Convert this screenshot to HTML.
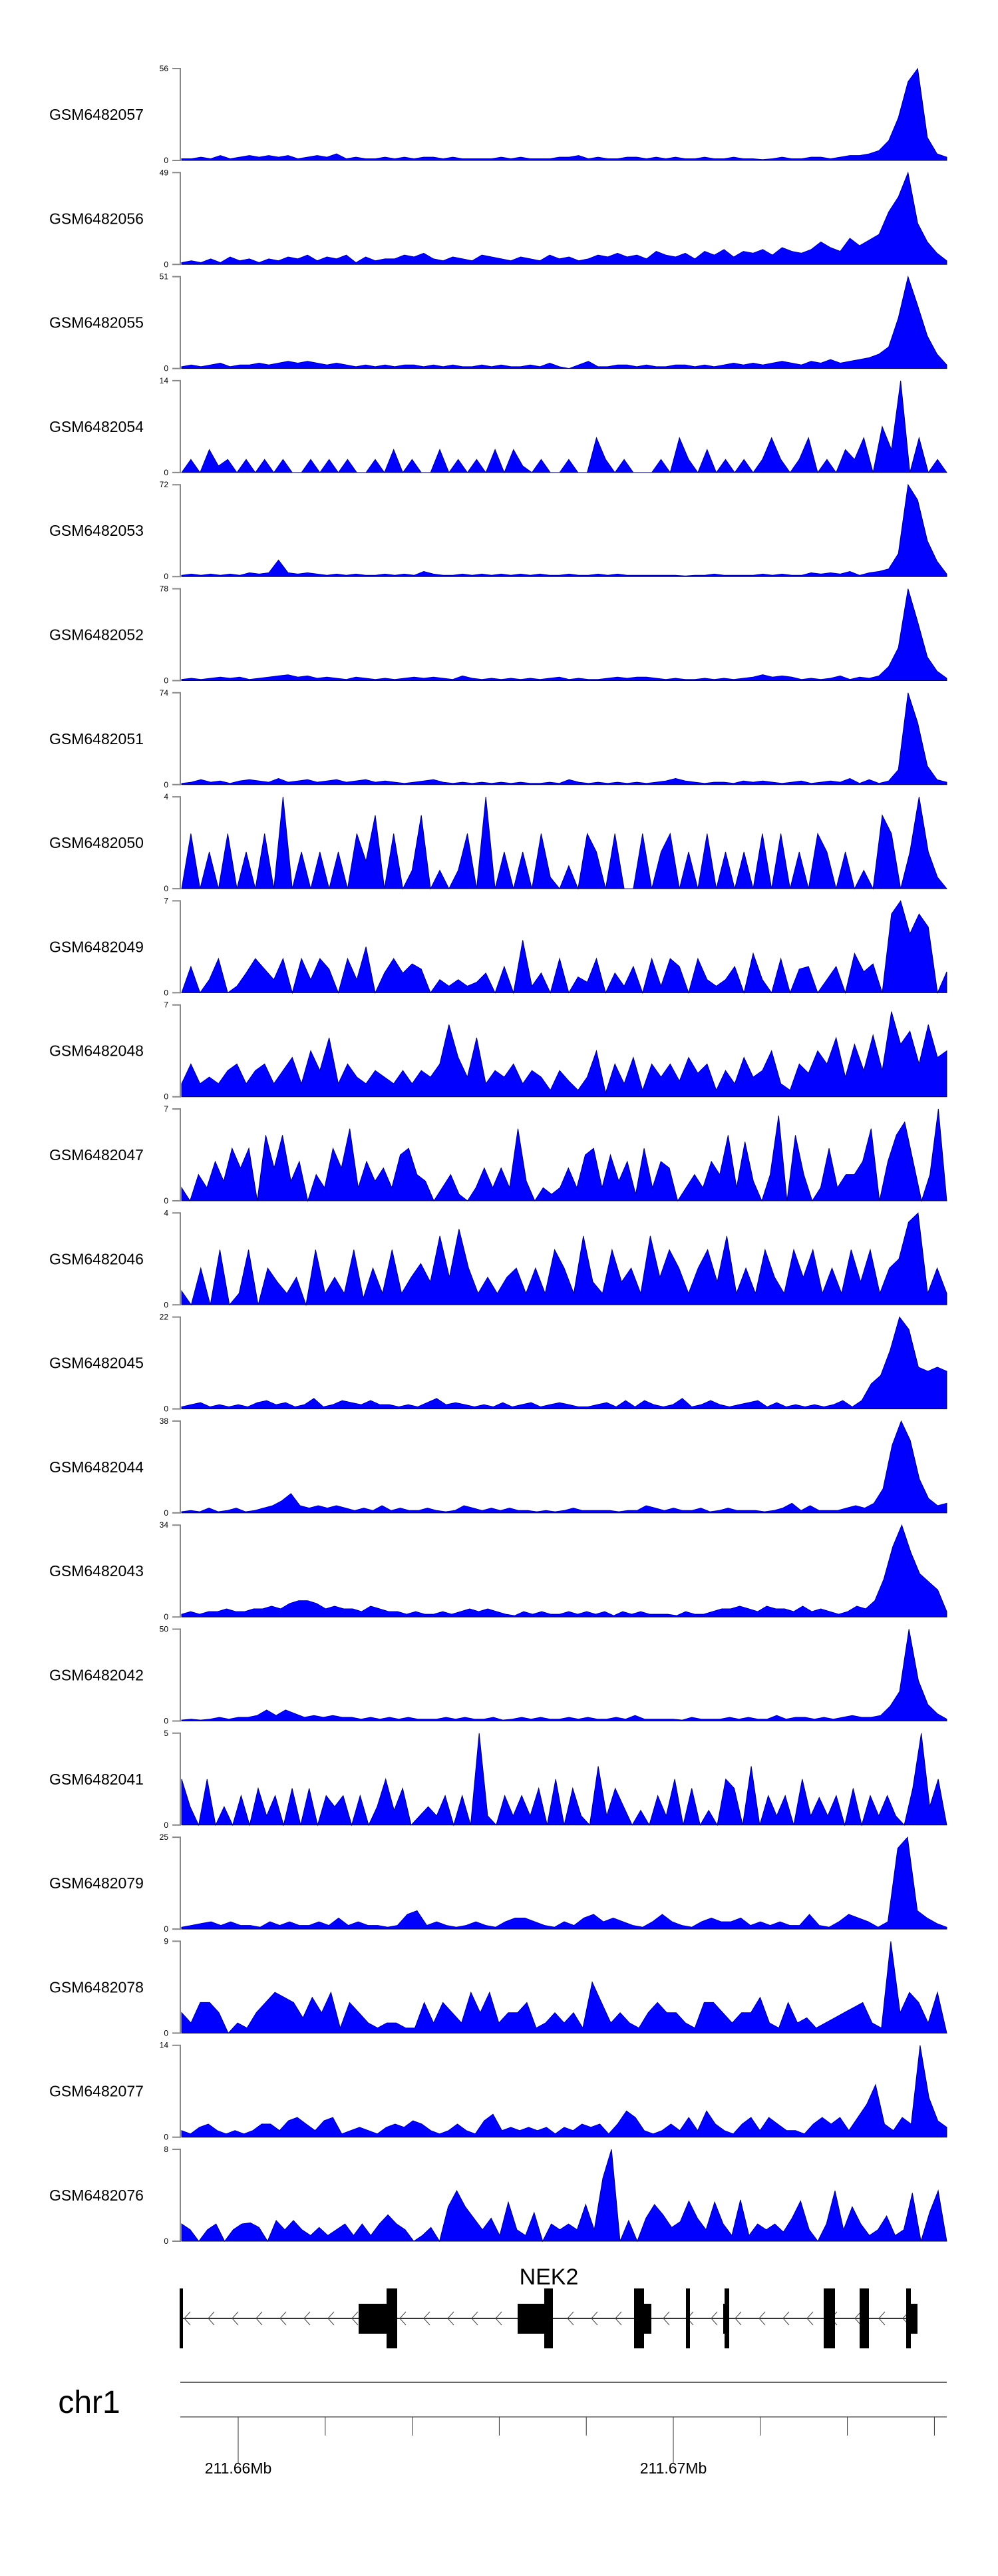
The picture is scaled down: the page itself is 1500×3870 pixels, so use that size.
<!DOCTYPE html>
<html>
<head>
<meta charset="utf-8">
<style>
html,body{margin:0;padding:0;background:#fff;}
svg{display:block;}
text{font-family:"Liberation Sans",sans-serif;}
</style>
</head>
<body>
<svg id="chart" width="1500" height="3870" viewBox="0 0 1500 3870" xmlns="http://www.w3.org/2000/svg">
  <g id="tracks"></g>
  <g id="gene"></g>
  <g id="axis"></g>
</svg>
<script>
const trackNames = ["GSM6482057","GSM6482056","GSM6482055","GSM6482054","GSM6482053","GSM6482052","GSM6482051","GSM6482050","GSM6482049","GSM6482048","GSM6482047","GSM6482046","GSM6482045","GSM6482044","GSM6482043","GSM6482042","GSM6482041","GSM6482079","GSM6482078","GSM6482077","GSM6482076"];
const trackMax = [56,49,51,14,72,78,74,4,7,7,7,4,22,38,34,50,5,25,9,14,8];
const s57 = [1,1,2,1,3,1,2,3,2,3,2,3,1,2,3,2,4,1,2,1,1,2,1,2,1,2,2,1,2,1,1,1,1,2,1,2,1,1,1,2,2,3,1,2,1,1,2,2,1,2,1,2,1,1,2,1,1,2,1,1,0.5,1,2,1,1,2,2,1,2,3,3,4,6,12,26,48,56,14,4,2];
const s56 = [1,2,1,3,1,4,2,3,1,3,2,4,3,5,2,4,3,5,1,4,2,3,3,5,4,6,3,2,4,3,2,5,4,3,2,4,3,2,5,3,4,2,3,5,4,6,4,5,3,7,5,4,6,3,7,5,8,4,7,6,8,5,9,7,6,8,12,9,7,14,10,13,16,28,36,49,22,12,6,2];
const s55 = [1,2,1,2,3,1,2,2,3,2,3,4,3,4,3,2,3,2,1,2,1,2,1,2,2,1,2,1,2,1,1,2,1,2,1,1,2,1,3,1,0,2,4,1,1,2,2,1,2,1,1,2,2,1,2,1,2,3,2,3,2,3,4,3,2,4,3,5,3,4,5,6,8,12,28,51,35,18,8,2];
const s54 = [0,2,0,3.5,1,2,0,2,0,2,0,2,0,0,2,0,2,0,2,0,0,2,0,3.5,0,2,0,0,3.5,0,2,0,2,0,3.5,0,3.5,1,0,2,0,0,2,0,0,5.3,2,0,2,0,0,0,2,0,5.3,2,0,3.5,0,2,0,2,0,2,5.3,2,0,2,5.3,0,2,0,3.5,2,5.3,0,7,3.5,14,0,5.3,0,2,0];
const s53 = [1,2,1,2,1,2,1,3,2,3,13,3,2,3,2,1,2,1,2,1,1,2,1,2,1,4,2,1,1,2,1,2,1,2,1,2,1,2,1,1,2,1,1,2,1,2,1,1,1,1,1,1,0.5,1,1,2,1,1,1,1,2,1,2,1,1,3,2,3,2,4,1,3,4,6,18,72,60,28,12,2];
const s52 = [1,2,1,2,3,2,3,1,2,3,4,5,3,4,2,3,2,1,3,2,1,2,1,2,3,2,3,2,1,4,2,1,2,1,2,1,2,1,2,3,1,2,1,1,2,3,2,3,3,2,1,2,1,1,2,1,2,1,2,3,5,3,4,3,1,2,1,2,4,1,3,2,4,12,28,78,50,20,8,2];
const s51 = [1,2,4,2,3,1,3,4,3,2,5,2,3,4,2,3,4,2,3,4,2,3,2,1,2,3,4,2,1,2,1,2,1,2,1,2,1,1,2,1,4,2,1,2,1,2,1,2,1,2,3,5,3,2,1,2,2,1,3,2,3,2,1,2,3,1,2,3,2,5,1,4,1,3,12,74,50,15,4,2];
const s50 = [0,2.4,0,1.6,0,2.4,0,1.6,0,2.4,0,4,0,1.6,0,1.6,0,1.6,0,2.4,1.2,3.2,0,2.4,0,0.8,3.2,0,0.8,0,0.8,2.4,0,4,0,1.6,0,1.6,0,2.4,0.5,0,1,0,2.4,1.6,0,2.4,0,0,2.4,0,1.6,2.4,0,1.6,0,2.4,0,1.6,0,1.6,0,2.4,0,2.4,0,1.6,0,2.4,1.6,0,1.6,0,0.8,0,3.2,2.4,0,1.6,4,1.6,0.5,0];
const s49 = [0,2,0,1,2.6,0,0.5,1.5,2.6,1.8,1,2.6,0,2.6,1,2.6,1.8,0,2.6,1,3.5,0,1.5,2.6,1.5,2.2,1.8,0,1,0.5,1,0.5,0.8,1.5,0,2,0,4,0.5,1.5,0,2.6,0,1.2,0.8,2.6,0,1.5,0.5,2,0,2.6,0.5,2.6,2,0,2.6,1,0.5,1,2,0,3,1,0,2.6,0,1.8,2,0,1,2,0,3,1.6,2.2,0,6,7,4.5,6,5,0,1.6];
const s48 = [1,2.5,1,1.5,1,2,2.5,1,2,2.5,1,2,3,1,3.5,2,4.5,1,2.5,1.5,1,2,1.5,1,2,1,2,1.5,2.5,5.5,3,1.5,4.5,1,2,1.5,2.5,1,2,1.5,0.5,2,1.2,0.5,1.5,3.5,0.3,2.5,1,3,0.5,2.5,1.5,2.5,1.2,3,1.8,2.5,0.5,2,1,3,1.5,2,3.5,1,0.5,2.5,1.8,3.5,2.5,4.5,1.5,4,2,4.7,2,6.5,4,5,2.5,5.5,3,3.5];
const s47 = [1,0,2,1,3,1.5,4,2.5,4,0,5,2.5,5,1.5,3,0,2,1,4,2.5,5.5,1,3,1.5,2.5,1,3.5,4,2,1.5,0,1,2,0.5,0,1,2.5,1,2.5,1,5.5,1.5,0,1,0.5,1,2.5,1,3.5,4,1,3.5,1.5,3,0.5,4,1,3,2.5,0,1,2,1,3,2,5,1,4.5,1.5,0,2,6.5,0,5,2,0,1,4,1,2,2,3,5.5,0,3,5,6,3,0,2,7,0];
const s46 = [0.6,0,1.6,0,2.4,0,0.5,2.4,0,1.6,1,0.5,1.2,0,2.4,0.5,1.2,0.5,2.4,0.3,1.6,0.5,2.4,0.5,1.2,1.8,1,3,1.2,3.3,1.6,0.5,1.2,0.5,1.2,1.6,0.5,1.6,0.5,2.4,1.6,0.5,3,1,0.5,2.4,1,1.6,0.5,3,1.2,2.4,1.6,0.5,1.6,2.4,1,3,0.5,1.6,0.5,2.4,1.2,0.5,2.4,1.2,2.4,0.5,1.6,0.5,2.4,1,2.4,0.5,1.6,2,3.6,4,0.5,1.6,0.5];
const s45 = [0.5,1,1.5,0.5,1,0.5,1,0.5,1.5,2,1,1.5,0.5,1,2.5,0.5,1,2,1.5,1,2,1,1,0.5,1,0.5,1.5,2.5,1,1.5,1,0.5,1,0.5,1.5,0.5,1,1.5,0.5,1,1.5,1,0.5,0.5,1,1.5,0.5,2,0.5,2,1,0.5,1,2.5,0.5,1,2,1,0.5,1,1.5,2,0.5,1.5,0.5,1,0.5,1,0.5,1,2,0.5,2,6,8,14,22,19,10,9,10,9];
const s44 = [0.5,1,0.5,2,0.5,1,2,0.5,1,2,3,5,8,3,2,3,2,3,2,1,2,1,3,1,2,1,1,2,1,0.5,1,3,2,1,2,1,2,1,1,0.5,1,0.5,1,2,1,1,1,1,0.5,1,1,3,2,1,2,1,1,2,0.5,1,2,1,1,1,0.5,1,2,4,1,3,1,1,1,2,3,2,4,10,28,38,30,14,6,3,4];
const s43 = [1,2,1,2,2,3,2,2,3,3,4,3,5,6,6,5,3,4,3,3,2,4,3,2,2,1,2,1,1,2,1,2,3,2,3,2,1,0.5,2,1,2,1,1,2,1,2,1,2,0.5,2,1,2,1,1,1,0.5,2,1,1,2,3,3,4,3,2,4,3,3,2,4,2,3,2,1,2,4,3,6,14,26,34,24,16,13,10,2];
const s42 = [0.5,1,0.5,1,2,1,2,2,3,6,3,6,4,2,3,2,3,2,2,1,2,1,2,1,2,1,1,1,2,1,2,1,1,2,0.5,1,2,1,2,1,1,2,1,2,1,1,2,1,3,1,1,1,1,0.5,2,1,1,1,2,1,2,1,1,3,1,2,2,1,2,1,2,3,2,2,3,8,16,50,22,9,4,1];
const s41 = [2.5,1,0,2.5,0,1,0,1.6,0,2,0.5,1.6,0,2,0,2,0,1.6,1,1.6,0,1.6,0,1,2.5,0.8,2,0,0.5,1,0.5,1.6,0,1.6,0,5,0.5,0,1.6,0.5,1.6,0.5,2,0,2.5,0,2,0.5,0,3.2,0.5,2,1,0,0.8,0,1.6,0.5,2.5,0,2,0,0.8,0,2.5,2,0,3.2,0,1.6,0.5,1.6,0,2.5,0.5,1.5,0.5,1.6,0,2,0,1.6,0.5,1.6,0.5,0,2,5,1,2.5,0];
const s79 = [0.5,1,1.5,2,1,2,1,1,0.5,2,1,2,1,1,2,1,3,1,2,1,1,0.5,1,4,5,1,2,1,0.5,1,2,1,0.5,2,3,3,2,1,0.5,2,1,3,4,2,3,2,1,0.5,2,4,2,1,0.5,2,3,2,2,3,1,2,1,2,1,1,4,1,0.5,2,4,3,2,0.5,2,22,25,5,3,1.5,0.5];
const s78 = [2,1,3,3,2,0,1,0.5,2,3,4,3.5,3,1.5,3.5,2,4,0.5,3,2,1,0.5,1,1,0.5,0.5,3,1,3,2,1,4,2,4,1,2,2,3,0.5,1,2,1,2,0.5,5,3,1,2,1,0.5,2,3,2,2,1,0.5,3,3,2,1,2,2,3.5,1,0.5,3,1,1.5,0.5,1,1.5,2,2.5,3,1,0.5,9,2,4,3,1,4,0];
const s77 = [1,0.5,1.5,2,1,0.5,1,0.5,1,2,2,1,2.5,3,2,1,2.5,3,0.5,1,1.5,1,0.5,1.5,2,1.5,2.5,2,1,0.5,1,2,1,0.5,2.5,3.5,1,1.5,1,1.5,1,1.5,0.5,1.5,1,2,1.5,2,0.5,2,4,3,1,0.5,1,2,1,3,1,4,2,1,0.5,2,3,1,3,2,1,1,0.5,2,3,2,3,1,3,5,8,2,1,3,2,14,6,2.5,1.5];
const s76 = [1.5,1,0,1,1.5,0,1,1.5,1.6,1.2,0,1.8,1,1.8,1,0.5,1.2,0.5,1,1.5,0.5,1.5,0.5,1.5,2.3,1.5,1,0,0.5,1.2,0,3,4.4,3,2,1,2,0.5,3.4,1,0.5,2.5,0,1.5,1,1.5,1,3.2,1,5.5,8,0,1.8,0,2,3.2,2.3,1.2,1.7,3.5,2,1,3.4,1.5,0.5,3.6,0.5,1.5,1,1.5,0.8,2,3.5,1,0,1.5,4.4,1,3,1.5,0.5,1,2.2,0.5,1,4.2,0,2.5,4.4,0];
const seriesList = [s57,s56,s55,s54,s53,s52,s51,s50,s49,s48,s47,s46,s45,s44,s43,s42,s41,s79,s78,s77,s76];

const axisTickLabels = ["211.66Mb","211.67Mb"];
const axisTickPos = [211660000, 211670000];

const NS = "http://www.w3.org/2000/svg";
function mk(tag, attrs, parent){
  const e = document.createElementNS(NS, tag);
  for (const k in attrs) e.setAttribute(k, attrs[k]);
  parent.appendChild(e);
  return e;
}
const X0 = 273, X1 = 1423, TOP0 = 103, PITCH = 156.3, H = 138;
function xScale(i, n){ return X0 + (X1 - X0) * i / (n - 1); }
function yScale(v, max, bottom){ return bottom - H * Math.min(v, max) / max; }

const tracksG = document.getElementById('tracks');
seriesList.forEach((vals, t) => {
  const top = TOP0 + t * PITCH, bottom = top + H, max = trackMax[t];
  const g = mk('g', {}, tracksG);
  
  
  const lbl = mk('text', {x: 74, y: (top + bottom) / 2 + 8, 'font-size': 23, fill: '#000'}, g);
  lbl.textContent = trackNames[t];
  
  
  const ax = mk('path', {d: `M259,${top}H271V${bottom}H259`, stroke: '#888', 'stroke-width': 2, fill: 'none'}, g);
  
  
  const tMax = mk('text', {x: 253, y: top + 4, 'font-size': 12, 'text-anchor': 'end', fill: '#000'}, g);
  tMax.textContent = String(max);
  
  
  const tMin = mk('text', {x: 253, y: bottom + 4, 'font-size': 12, 'text-anchor': 'end', fill: '#000'}, g);
  tMin.textContent = '0';
  
  
  let d = `M${X0},${bottom}`;
  vals.forEach((v, i) => { d += `L${xScale(i, vals.length).toFixed(1)},${yScale(v, max, bottom).toFixed(1)}`; });
  d += `L${X1},${bottom}Z`;
  const area = mk('path', {d: d, fill: '#0000ff', stroke: '#000066', 'stroke-width': 1}, g);
  
  
});

// gene model
const geneG = document.getElementById('gene');
const gl = mk('text', {x: 825, y: 3432, 'font-size': 34, 'text-anchor': 'middle', fill: '#000'}, geneG);
gl.textContent = 'NEK2';


const intron = mk('line', {x1: 272, y1: 3483, x2: 1372, y2: 3483, stroke: '#333', 'stroke-width': 2}, geneG);


for (let x = 277; x < 1365; x += 36) {
  const c = mk('path', {d: `M${x+9},3473L${x},3483L${x+9},3493`, stroke: '#444', 'stroke-width': 1, fill: 'none'}, geneG);
  
  
}
const exons = [
  [270,275,3438,3528],
  [539,584,3461,3506],[581,597,3438,3528],
  [778,818,3461,3506],[818,831,3438,3528],
  [953,968,3438,3528],[968,979,3461,3506],
  [1031,1037,3438,3528],
  [1087,1096,3461,3506],[1089,1096,3438,3528],
  [1238,1255,3438,3528],[1292,1306,3438,3528],
  [1362,1369,3438,3528],[1369,1379,3461,3506]
];
exons.forEach(e => {
  const r = mk('rect', {x: e[0], y: e[2], width: e[1]-e[0], height: e[3]-e[2], fill: '#000'}, geneG);
  
  
});

// genome axis
const axG = document.getElementById('axis');
const chr = mk('text', {x: 134, y: 3625, 'font-size': 48, 'text-anchor': 'middle', fill: '#000'}, axG);
chr.textContent = 'chr1';


const l1 = mk('line', {x1: 271, y1: 3579, x2: 1423, y2: 3579, stroke: '#666', 'stroke-width': 2}, axG);


const l2 = mk('line', {x1: 271, y1: 3631, x2: 1423, y2: 3631, stroke: '#888', 'stroke-width': 2}, axG);


const bpPerPx = 10000 / (1012 - 358);
function bpX(bp){ return 358 + (bp - axisTickPos[0]) / bpPerPx; }
for (let bp = 211660000; bp <= 211680000; bp += 2000) {
  const x = bpX(bp);
  if (x > 1423) break;
  const major = axisTickPos.indexOf(bp) >= 0;
  const tk = mk('line', {x1: x, y1: 3631, x2: x, y2: major ? 3700 : 3659, stroke: '#333', 'stroke-width': 1}, axG);
  
  
}
axisTickPos.forEach((bp, i) => {
  const t = mk('text', {x: bpX(bp), y: 3716, 'font-size': 23, 'text-anchor': 'middle', fill: '#000'}, axG);
  t.textContent = axisTickLabels[i];
  
  
});
</script>
</body>
</html>
